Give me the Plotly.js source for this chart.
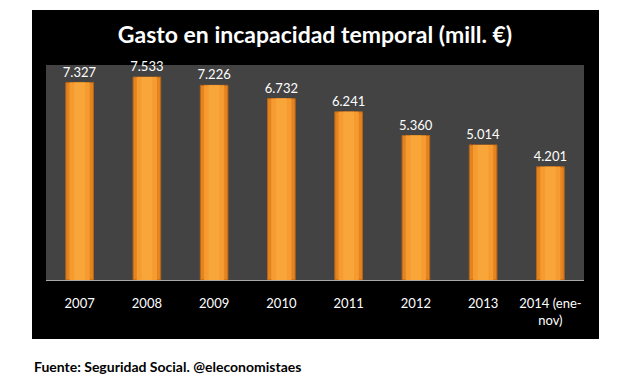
<!DOCTYPE html>
<html>
<head>
<meta charset="utf-8">
<script src="https://cdn.plot.ly/plotly-3.0.1.min.js"></script>
<style>html,body{margin:0;padding:0;background:#fff;}#chart{width:630px;height:378px;}</style>
</head>
<body>
<div id="chart"></div>
<script>
var categories = ["2007", "2008", "2009", "2010", "2011", "2012", "2013", "2014 (ene-<br>nov)"];
var values = [7327, 7533, 7226, 6732, 6241, 5360, 5014, 4201];
var titleText = "Gasto en incapacidad temporal (mill. €)";
var sourceText = "Fuente: Seguridad Social. @eleconomistaes";

var plotL = 46, plotR = 584, plotT = 65, plotB = 280;
var pw = plotR - plotL, ph = plotB - plotT;
function px(x){ return (x - plotL) / pw; }
function py(y){ return (plotB - y) / ph; }

var traces = [
  {
    type: "bar", x: categories, y: values, width: 0.41,
    marker: {color: "#e4841f", line: {color: "#b8651a", width: 1}},
    texttemplate: "%{y:,.0f}", textposition: "outside", constraintext: "none",
    textfont: {color: "#ffffff", size: 13, family: "Lato, sans-serif"},
    cliponaxis: false, hoverinfo: "skip"
  },
  {
    type: "bar", x: categories, y: values, width: 0.3,
    marker: {color: "#f59b30", line: {width: 0}},
    hoverinfo: "skip"
  },
  {
    type: "bar", x: categories, y: values, width: 0.16,
    marker: {color: "#f8a63a", line: {width: 0}},
    hoverinfo: "skip"
  }
];

var layout = {
  width: 630, height: 378,
  margin: {l: plotL, r: 630 - plotR, t: plotT, b: 378 - plotB, pad: 0},
  paper_bgcolor: "#ffffff",
  plot_bgcolor: "rgba(0,0,0,0)",
  separators: ",.",
  barmode: "overlay",
  showlegend: false,
  font: {family: "Lato, sans-serif", color: "#ffffff"},
  title: {
    text: "<b>" + titleText + "</b>",
    font: {family: "Lato, sans-serif", size: 23, color: "#ffffff"},
    x: 0.5, xanchor: "center", y: 1 - 35/378, yanchor: "middle"
  },
  xaxis: {
    type: "category", showgrid: false, zeroline: false,
    showline: true, linecolor: "#a8a8a8", linewidth: 1,
    ticks: "", ticklabelstandoff: 11,
    tickfont: {color: "#ffffff", size: 13, family: "Lato, sans-serif"},
    fixedrange: true
  },
  yaxis: {
    range: [0, 7980], visible: false, showgrid: false, zeroline: false, fixedrange: true
  },
  shapes: [
    {type: "rect", xref: "paper", yref: "paper", layer: "below",
     x0: px(32), x1: px(599), y0: py(339), y1: py(10),
     fillcolor: "#000000", line: {width: 0}},
    {type: "rect", xref: "paper", yref: "paper", layer: "below",
     x0: 0, x1: 1, y0: 0, y1: 1,
     fillcolor: "#434343", line: {width: 0}}
  ],
  annotations: [
    {xref: "paper", yref: "paper", x: px(32), y: py(366), xanchor: "left", yanchor: "middle",
     text: "<b>" + sourceText + "</b>", showarrow: false,
     font: {family: "Lato, sans-serif", size: 14, color: "#000000"}}
  ]
};

Plotly.newPlot("chart", traces, layout, {displayModeBar: false, staticPlot: true});
</script>
</body>
</html>
